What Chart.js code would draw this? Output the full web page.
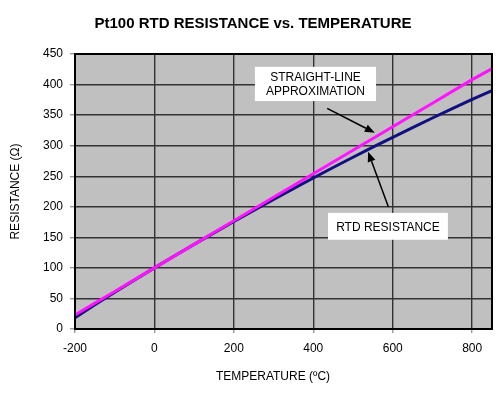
<!DOCTYPE html>
<html>
<head>
<meta charset="utf-8">
<script src="https://cdn.jsdelivr.net/npm/chart.js@4/dist/chart.umd.min.js"></script>
<style>
  html, body { margin: 0; padding: 0; background: #ffffff; }
  #wrap { width: 500px; height: 396px; }
</style>
</head>
<body>
<div id="wrap"><canvas id="c" width="500" height="396"></canvas></div>
<script>
// ---- Data ----
const temperatures = [-200, -150, -100, -50, 0, 50, 100, 150, 200, 250, 300, 350, 400, 450, 500, 550, 600, 650, 700, 750, 800, 850];
const rtdResistance = [18.5, 39.7, 60.3, 80.3, 100, 119.4, 138.5, 157.3, 175.9, 194.1, 212.1, 229.7, 247.1, 264.2, 281.0, 297.5, 313.7, 329.6, 345.3, 360.6, 375.7, 390.0];
const straightLine = [23, 42.3, 61.5, 80.8, 100, 119.3, 138.5, 157.8, 177, 196.3, 215.5, 234.8, 254, 273.3, 292.5, 311.8, 331, 350.3, 369.5, 388.8, 408, 426];
const seriesNames = ['STRAIGHT-LINE APPROXIMATION', 'RTD RESISTANCE'];
const chartTitle = 'Pt100 RTD RESISTANCE vs. TEMPERATURE';
const xAxisTitle = 'TEMPERATURE (\u00BAC)';
const yAxisTitle = 'RESISTANCE (\u03A9)';

// Callout labels and arrows (in data coordinates)
const callouts = [
  { lines: ['STRAIGHT-LINE', 'APPROXIMATION'], xMin: 253, xMax: 558, yMin: 373, yMax: 429 },
  { lines: ['RTD RESISTANCE'], xMin: 437, xMax: 739, yMin: 146, yMax: 190 }
];
const arrows = [
  { from: [435, 361], to: [555, 321] },
  { from: [589, 200], to: [538, 290] }
];

const FONT = '"Liberation Sans", Arial, Helvetica, sans-serif';

const decorPlugin = {
  id: 'decor',
  beforeDraw(chart) {
    const { ctx, chartArea: a } = chart;
    ctx.save();
    ctx.fillStyle = '#c0c0c0';
    ctx.fillRect(a.left, a.top, a.right - a.left, a.bottom - a.top);
    ctx.restore();
  },
  afterDatasetsDraw(chart) {
    const { ctx, chartArea: a } = chart;
    const xs = chart.scales.x, ys = chart.scales.y;
    ctx.save();
    // plot frame
    ctx.strokeStyle = '#000000';
    ctx.lineWidth = 2;
    ctx.strokeRect(a.left, a.top, a.right - a.left, a.bottom - a.top);

    // callout boxes
    ctx.font = '12px ' + FONT;
    ctx.textAlign = 'center';
    ctx.textBaseline = 'middle';
    callouts.forEach(c => {
      const x1 = xs.getPixelForValue(c.xMin), x2 = xs.getPixelForValue(c.xMax);
      const y1 = ys.getPixelForValue(c.yMax), y2 = ys.getPixelForValue(c.yMin);
      ctx.fillStyle = '#ffffff';
      ctx.fillRect(x1, y1, x2 - x1, y2 - y1);
      ctx.fillStyle = '#000000';
      const cx = (x1 + x2) / 2, cy = (y1 + y2) / 2;
      const lh = 14;
      const n = c.lines.length;
      c.lines.forEach((t, i) => {
        ctx.fillText(t, cx, cy + (i - (n - 1) / 2) * lh + 1);
      });
    });

    // arrows
    arrows.forEach(ar => {
      const fx = xs.getPixelForValue(ar.from[0]), fy = ys.getPixelForValue(ar.from[1]);
      const tx = xs.getPixelForValue(ar.to[0]), ty = ys.getPixelForValue(ar.to[1]);
      const ang = Math.atan2(ty - fy, tx - fx);
      const hl = 10, hw = 4;
      const bx = tx - hl * Math.cos(ang), by = ty - hl * Math.sin(ang);
      ctx.strokeStyle = '#000000';
      ctx.fillStyle = '#000000';
      ctx.lineWidth = 1.5;
      ctx.beginPath();
      ctx.moveTo(fx, fy);
      ctx.lineTo(bx, by);
      ctx.stroke();
      ctx.beginPath();
      ctx.moveTo(tx, ty);
      ctx.lineTo(bx + hw * Math.sin(ang), by - hw * Math.cos(ang));
      ctx.lineTo(bx - hw * Math.sin(ang), by + hw * Math.cos(ang));
      ctx.closePath();
      ctx.fill();
    });

    // x axis title
    ctx.font = '12px ' + FONT;
    ctx.fillStyle = '#000000';
    ctx.textAlign = 'center';
    ctx.textBaseline = 'middle';
    ctx.fillText(xAxisTitle, 273, 377);
    ctx.restore();
  }
};

new Chart(document.getElementById('c'), {
  type: 'line',
  data: {
    datasets: [
      {
        label: seriesNames[0],
        data: temperatures.map((t, i) => ({ x: t, y: straightLine[i] })),
        borderColor: '#ff14ff',
        borderWidth: 3,
        pointRadius: 0,
        tension: 0,
        fill: false
      },
      {
        label: seriesNames[1],
        data: temperatures.map((t, i) => ({ x: t, y: rtdResistance[i] })),
        borderColor: '#10107e',
        borderWidth: 3,
        pointRadius: 0,
        tension: 0,
        fill: false
      }
    ]
  },
  options: {
    responsive: false,
    animation: false,
    devicePixelRatio: 1,
    layout: { padding: { left: 14, right: 8, top: 0, bottom: 0 } },
    plugins: {
      legend: { display: false },
      tooltip: { enabled: false },
      title: {
        display: true,
        text: chartTitle,
        color: '#000000',
        font: { family: FONT, size: 15, weight: 'bold', lineHeight: 1.2 },
        padding: { top: 15, bottom: 21 }
      }
    },
    scales: {
      x: {
        type: 'linear',
        min: -200,
        max: 850,
        border: { display: false },
        ticks: {
          stepSize: 200,
          includeBounds: false,
          color: '#000000',
          font: { family: FONT, size: 12 },
          padding: 8,
          maxRotation: 0
        },
        grid: {
          color: '#333333',
          lineWidth: 1.4,
          tickLength: 4,
          tickColor: '#9a9a9a'
        },
        afterFit(scale) { scale.height = 67; }
      },
      y: {
        type: 'linear',
        min: 0,
        max: 450,
        border: { display: false },
        ticks: {
          stepSize: 50,
          color: '#000000',
          font: { family: FONT, size: 12 },
          padding: 7
        },
        grid: {
          color: '#333333',
          lineWidth: 1.4,
          tickLength: 5,
          tickColor: '#9a9a9a'
        },
        title: {
          display: true,
          text: yAxisTitle,
          color: '#000000',
          font: { family: FONT, size: 12, lineHeight: 1.2 },
          padding: { top: -6, bottom: 0 }
        },
        afterFit(scale) { scale.width = 61; }
      }
    }
  },
  plugins: [decorPlugin]
});
</script>
</body>
</html>
